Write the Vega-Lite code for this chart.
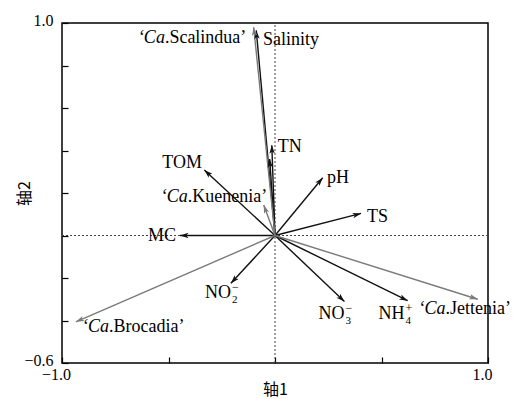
{
  "$schema": "https://vega.github.io/schema/vega-lite/v6.json",
  "width": 426,
  "height": 340,
  "autosize": "none",
  "padding": {"left": 62, "top": 23, "right": 32, "bottom": 36},
  "background": "white",
  "config": {
    "view": {"stroke": "black", "strokeWidth": 1.5},
    "font": "Liberation Serif, DejaVu Serif, serif"
  },
  "data": {
    "values": [
      {"name": "Salinity", "type": "env", "x": -0.088, "y": 0.965, "l": "Salinity", "lx": -0.056, "ly": 0.92},
      {"name": "TN", "type": "env", "x": -0.015, "y": 0.425, "l": "TN", "lx": 0.013, "ly": 0.418},
      {"name": "TP", "type": "env", "x": -0.025, "y": 0.36},
      {"name": "pH", "type": "env", "x": 0.224, "y": 0.272, "l": "pH", "lx": 0.244, "ly": 0.271},
      {"name": "TS", "type": "env", "x": 0.404, "y": 0.104, "l": "TS", "lx": 0.432, "ly": 0.087},
      {"name": "TOM", "type": "env", "x": -0.332, "y": 0.308, "r": "TOM", "lx": -0.343, "ly": 0.341},
      {"name": "MC", "type": "env", "x": -0.446, "y": 0.0, "r": "MC", "lx": -0.465, "ly": 0.0},
      {"name": "NO2", "type": "env", "x": -0.207, "y": -0.225, "r": "NO", "sub": "2", "sup": "−", "lx": -0.207, "ly": -0.271},
      {"name": "NO3", "type": "env", "x": 0.326, "y": -0.311, "r": "NO", "sub": "3", "sup": "−", "lx": 0.326, "ly": -0.369},
      {"name": "NH4", "type": "env", "x": 0.623, "y": -0.307, "r": "NH", "sub": "4", "sup": "+", "lx": 0.608, "ly": -0.369},
      {"name": "Scalindua", "type": "species", "x": -0.1, "y": 0.98, "ri": "‘Ca", "l": ".Scalindua’", "lx": -0.517, "ly": 0.929},
      {"name": "Kuenenia", "type": "species", "x": -0.053, "y": 0.144, "ri": "‘Ca", "l": ".Kuenenia’", "lx": -0.41, "ly": 0.183},
      {"name": "Brocadia", "type": "species", "x": -0.935, "y": -0.406, "ri": "‘Ca", "l": ".Brocadia’", "lx": -0.779, "ly": -0.429},
      {"name": "Jettenia", "type": "species", "x": 0.952, "y": -0.3, "ri": "‘Ca", "l": ".Jettenia’", "lx": 0.8, "ly": -0.347}
    ]
  },
  "encoding": {
    "x": {
      "field": "x",
      "type": "quantitative",
      "scale": {"domain": [-1, 1], "nice": false, "zero": false},
      "axis": {
        "title": "轴1",
        "titleFont": "Noto Sans CJK SC",
        "titleFontWeight": "normal",
        "titleFontSize": 16,
        "titleColor": "black",
        "titlePadding": -1,
        "values": [-1, -0.5, 0, 0.5, 1],
        "format": ".1f",
        "labelExpr": "abs(datum.value) == 1 ? datum.label : ''",
        "labelFont": "Liberation Serif, DejaVu Serif, serif",
        "labelFontSize": 16,
        "labelColor": "black",
        "labelFlush": false,
        "labelOffset": -6,
        "labelPadding": 9,
        "tickSize": -6,
        "tickColor": "black",
        "tickWidth": 1.2,
        "domain": false,
        "grid": false
      }
    },
    "y": {
      "field": "y",
      "type": "quantitative",
      "scale": {"domain": [-0.6, 1], "nice": false, "zero": false},
      "axis": {
        "title": "轴2",
        "titleFont": "Noto Sans CJK SC",
        "titleFontWeight": "normal",
        "titleFontSize": 16,
        "titleColor": "black",
        "titlePadding": -9,
        "values": [-0.6, -0.4, -0.2, 0, 0.2, 0.4, 0.6, 0.8, 1],
        "format": ".1f",
        "labelExpr": "(datum.value == 1 || datum.value == -0.6) ? datum.label : ''",
        "labelFont": "Liberation Serif, DejaVu Serif, serif",
        "labelFontSize": 16,
        "labelColor": "black",
        "labelPadding": 15,
        "labelOffset": -3,
        "tickSize": -6,
        "tickColor": "black",
        "tickWidth": 1.2,
        "domain": false,
        "grid": false
      }
    }
  },
  "layer": [
    {
      "transform": [{"filter": "datum.name == 'MC'"}],
      "mark": {"type": "rule", "strokeDash": [2, 2], "color": "#444", "strokeWidth": 1},
      "encoding": {
        "x": {"datum": -1, "type": "quantitative", "axis": {"title": "轴1"}},
        "x2": {"datum": 1},
        "y": {"datum": 0, "type": "quantitative", "axis": {"title": "轴2"}}
      }
    },
    {
      "transform": [{"filter": "datum.name == 'MC'"}],
      "mark": {"type": "rule", "strokeDash": [2, 2], "color": "#444", "strokeWidth": 1},
      "encoding": {
        "x": {"datum": 0, "type": "quantitative", "axis": {"title": "轴1"}},
        "y": {"datum": -0.6, "type": "quantitative", "axis": {"title": "轴2"}},
        "y2": {"datum": 1}
      }
    },
    {
      "mark": {"type": "rule", "strokeWidth": 1.4},
      "encoding": {
        "x": {"datum": 0, "type": "quantitative", "axis": {"title": "轴1"}},
        "y": {"datum": 0, "type": "quantitative", "axis": {"title": "轴2"}},
        "x2": {"field": "x"},
        "y2": {"field": "y"},
        "color": {"field": "type", "type": "nominal", "scale": {"domain": ["env", "species"], "range": ["#111111", "#7a7a7a"]}, "legend": null}
      }
    },
    {
      "transform": [{"calculate": "atan2(datum.x, datum.y) * 180 / PI", "as": "ang"}],
      "mark": {"type": "point", "filled": true, "opacity": 1, "strokeWidth": 0, "size": 289, "shape": "M0,0L-0.32,1L0,0.75L0.32,1Z"},
      "encoding": {
        "angle": {"field": "ang", "type": "quantitative", "scale": null},
        "color": {"field": "type", "type": "nominal", "scale": {"domain": ["env", "species"], "range": ["#111111", "#7a7a7a"]}, "legend": null}
      }
    },
    {
      "transform": [{"filter": "isValid(datum.l)"}],
      "mark": {"type": "text", "align": "left", "baseline": "middle", "fontSize": 18, "font": "Liberation Serif, DejaVu Serif, serif", "color": "black"},
      "encoding": {
        "x": {"field": "lx", "type": "quantitative", "axis": {"title": "轴1"}},
        "y": {"field": "ly", "type": "quantitative", "axis": {"title": "轴2"}},
        "text": {"field": "l"}
      }
    },
    {
      "transform": [{"filter": "isValid(datum.r)"}],
      "mark": {"type": "text", "align": "right", "baseline": "middle", "fontSize": 18, "font": "Liberation Serif, DejaVu Serif, serif", "color": "black"},
      "encoding": {
        "x": {"field": "lx", "type": "quantitative", "axis": {"title": "轴1"}},
        "y": {"field": "ly", "type": "quantitative", "axis": {"title": "轴2"}},
        "text": {"field": "r"}
      }
    },
    {
      "transform": [{"filter": "isValid(datum.ri)"}],
      "mark": {"type": "text", "align": "right", "baseline": "middle", "fontSize": 18, "fontStyle": "italic", "font": "Liberation Serif, DejaVu Serif, serif", "color": "black"},
      "encoding": {
        "x": {"field": "lx", "type": "quantitative", "axis": {"title": "轴1"}},
        "y": {"field": "ly", "type": "quantitative", "axis": {"title": "轴2"}},
        "text": {"field": "ri"}
      }
    },
    {
      "transform": [{"filter": "isValid(datum.sub)"}],
      "mark": {"type": "text", "align": "left", "baseline": "middle", "fontSize": 11, "dx": 1, "dy": 7, "font": "Liberation Serif, DejaVu Serif, serif", "color": "black"},
      "encoding": {
        "x": {"field": "lx", "type": "quantitative", "axis": {"title": "轴1"}},
        "y": {"field": "ly", "type": "quantitative", "axis": {"title": "轴2"}},
        "text": {"field": "sub"}
      }
    },
    {
      "transform": [{"filter": "isValid(datum.sup)"}],
      "mark": {"type": "text", "align": "left", "baseline": "middle", "fontSize": 12, "dx": 1, "dy": -6, "font": "Liberation Serif, DejaVu Serif, serif", "color": "black"},
      "encoding": {
        "x": {"field": "lx", "type": "quantitative", "axis": {"title": "轴1"}},
        "y": {"field": "ly", "type": "quantitative", "axis": {"title": "轴2"}},
        "text": {"field": "sup"}
      }
    }
  ]
}
